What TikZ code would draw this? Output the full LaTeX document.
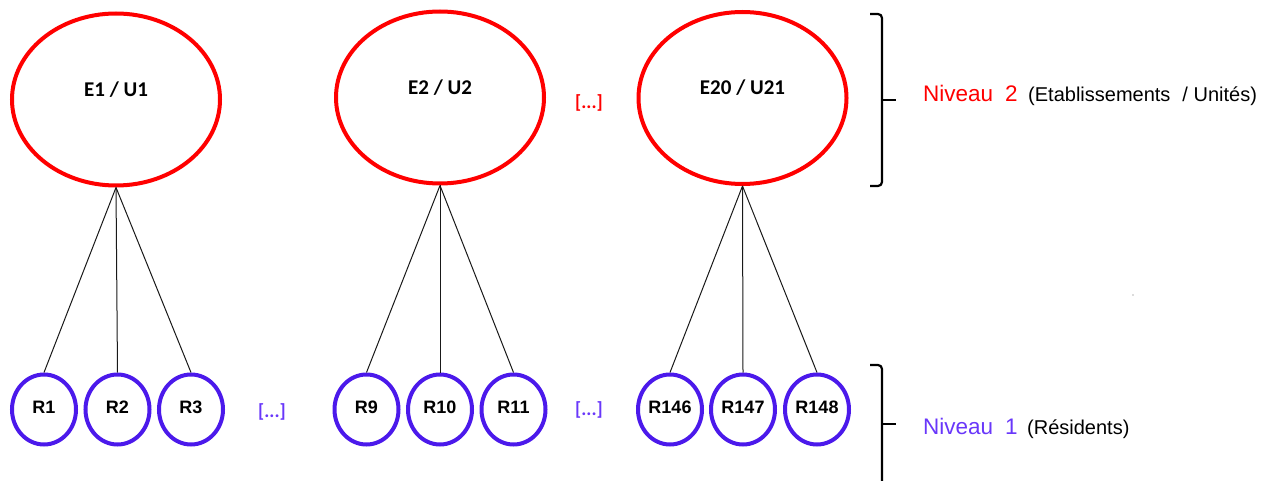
\documentclass[tikz,border=0pt]{standalone}
\usepackage{fontspec}
\setmainfont{Liberation Sans}
\newfontfamily\calib{Carlito}
\usetikzlibrary{shapes.geometric}
\definecolor{ered}{RGB}{255,0,0}
\definecolor{rblue}{RGB}{75,25,235}
\definecolor{tblue}{RGB}{105,55,250}
\begin{document}
\begin{tikzpicture}[x=1pt,y=-1pt,
  bigell/.style={ellipse, draw=ered, line width=4pt, minimum width=208pt, minimum height=172pt, inner sep=0pt},
  smallell/.style={ellipse, draw=rblue, line width=4pt, minimum width=64pt, minimum height=70pt, inner sep=0pt},
  elabel/.style={font=\calib\bfseries\fontsize{21}{24}\selectfont, inner sep=0pt},
  rlabel/.style={font=\bfseries\fontsize{18}{20}\selectfont, inner sep=0pt},
  link/.style={draw=black!90, line width=1pt},
  dots/.style={font=\calib\bfseries\fontsize{19}{22}\selectfont, inner sep=0pt},
  brack/.style={line width=2.2pt, rounded corners=4pt},
  lvltxt/.style={font=\fontsize{22.5}{26}\selectfont, inner sep=0pt, anchor=base west},
  subtxt/.style={font=\fontsize{20}{24}\selectfont, inner sep=0pt, anchor=base west}
]
\useasboundingbox (0,0) rectangle (1275,481);

% level 2
\node[bigell, label={[elabel,yshift=10pt]center:E1 / U1}] (e1) at (116,99.5) {};
\node[bigell, label={[elabel,yshift=10pt]center:E2 / U2}] (e2) at (440,97.5) {};
\node[bigell, label={[elabel,yshift=10pt]center:E20 / U21}] (e20) at (742.5,98) {};
\node[dots, text=ered] (d2) at (589,103) {[...]};

% level 1
\foreach \n/\x in {1/44, 2/117.5, 3/191, 9/366.5, 10/440, 11/513.5, 146/670, 147/743, 148/817}{
  \node[smallell, label={[rlabel,yshift=2pt]center:R\n}] (r\n) at (\x,409.5) {};
}
\node[dots, text=tblue] (d1a) at (272,412) {[...]};
\node[dots, text=tblue] (d1b) at (589,410) {[...]};

% connectors
\foreach \a/\b in {e1/r1, e1/r2, e1/r3, e2/r9, e2/r10, e2/r11, e20/r146, e20/r147, e20/r148}{
  \draw[link] (\a.south) -- (\b.north);
}

% brackets
\draw[brack] (870,14) -- (882,14) -- (882,186) -- (870,186);
\draw[line width=2.2pt] (882,100) -- (896,100);
\draw[brack] (870,365) -- (882,365) -- (882,495);
\draw[line width=2.2pt] (882,424) -- (896,424);

% level texts
\node[lvltxt, text=ered] (n2) at (923,102) {Niveau\hspace{12pt}2};
\node[subtxt] (s2) at (1028,102) {(Etablissements\hspace{12pt}/ Unités)};
\node[lvltxt, text=tblue] (n1) at (923,434) {Niveau\hspace{12pt}1};
\node[subtxt] (s1) at (1027,434) {(Résidents)};

\fill[black!60] (1133,295) circle (0.7pt);
\end{tikzpicture}
\end{document}
